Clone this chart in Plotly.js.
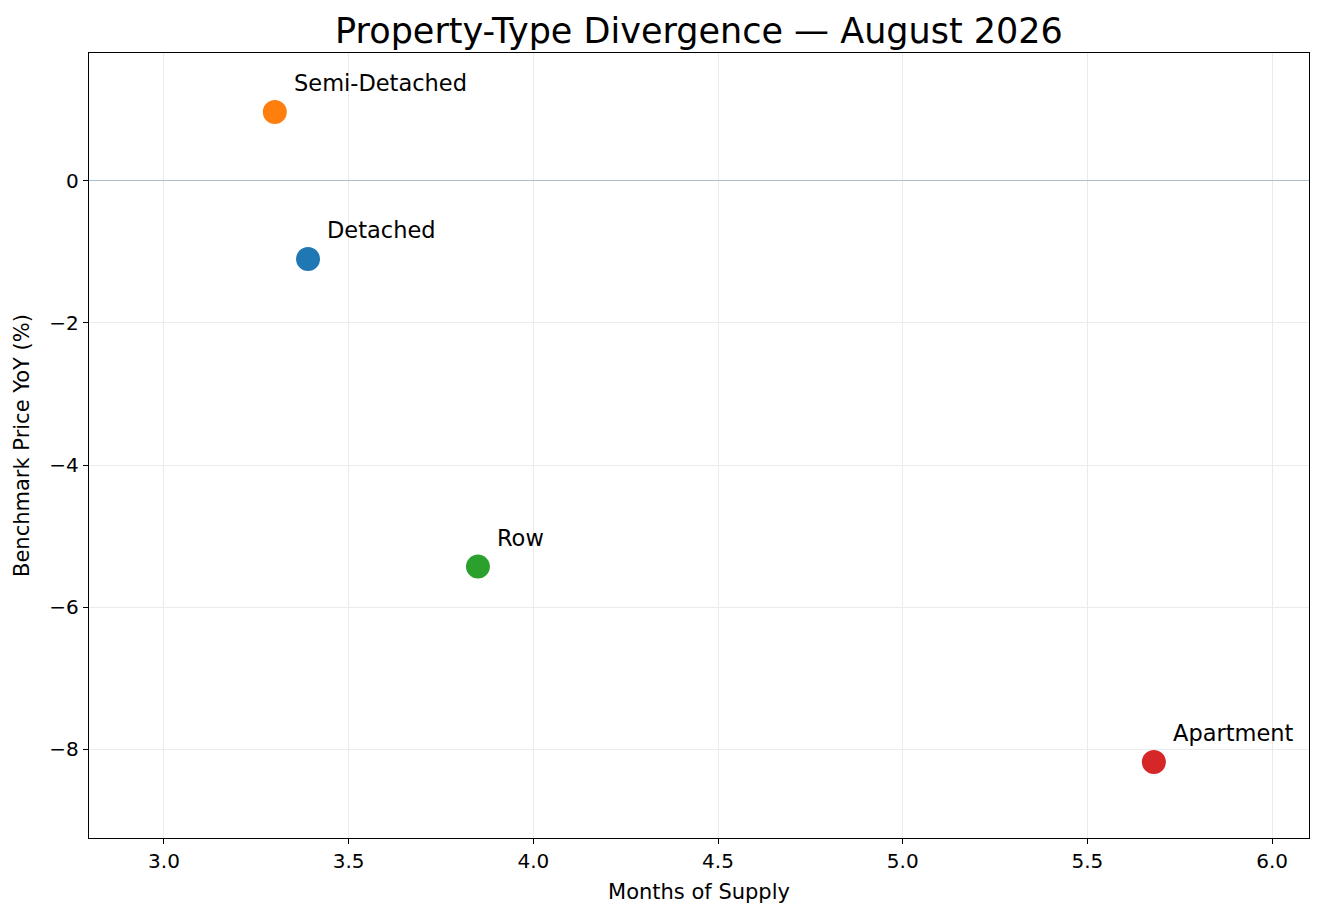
<!DOCTYPE html>
<html>
<head>
<meta charset="utf-8">
<script src="https://cdn.plot.ly/plotly-3.0.1.min.js"></script>
<style>
  body { margin: 0; background: #fff; }
  #chart { width: 1324px; height: 917px; }
</style>
</head>
<body>
<div id="chart"></div>
<script>
// property types
var types = ['Detached', 'Semi-Detached', 'Row', 'Apartment'];
var monthsSupply = [3.39, 3.30, 3.85, 5.68];
var priceYoY = [-1.1, 0.97, -5.43, -8.18];
var colors = ['#1f77b4', '#ff7f0e', '#2ca02c', '#d62728'];

var xTicks = [3.0, 3.5, 4.0, 4.5, 5.0, 5.5, 6.0];
var yTicks = [0, -2, -4, -6, -8];

var font = 'DejaVu Sans, sans-serif';

var traces = [{
	x: monthsSupply,
	y: priceYoY,
	mode: 'markers',
	type: 'scatter',
	marker: { color: colors, size: 24, line: { width: 0 } },
	hoverinfo: 'skip'
}];

var annotations = [];
for (var i = 0; i < types.length; i++) {
	annotations.push({
		x: monthsSupply[i], y: priceYoY[i],
		xref: 'x', yref: 'y',
		text: types[i],
		showarrow: false,
		xanchor: 'left', yanchor: 'middle',
		xshift: 17, yshift: 29,
		font: { family: font, size: 22.5, color: '#000' }
	});
}

var layout = {
	width: 1324, height: 917,
	margin: { l: 89, r: 15, t: 53, b: 79 },
	paper_bgcolor: '#fff',
	plot_bgcolor: '#fff',
	font: { family: font, color: '#000' },
	title: {
		text: 'Property-Type Divergence — August 2026',
		font: { family: font, size: 35, color: '#000' },
		xref: 'paper', x: 0.5, xanchor: 'center',
		y: 1 - 31 / 917, yanchor: 'middle'
	},
	xaxis: {
		title: { text: 'Months of Supply', font: { size: 21 }, standoff: 12 },
		range: [2.797, 6.1],
		tickvals: xTicks,
		ticktext: xTicks.map(function (v) { return v.toFixed(1); }),
		ticks: 'outside', ticklen: 5, tickcolor: '#000',
		tickfont: { size: 20 },
		showgrid: true, gridcolor: '#ebebeb', gridwidth: 1,
		zeroline: false,
		showline: true, linecolor: '#000', linewidth: 1.2, mirror: true
	},
	yaxis: {
		title: { text: 'Benchmark Price YoY (%)', font: { size: 21 }, standoff: 14 },
		range: [-9.25, 1.8],
		tickvals: yTicks,
		ticktext: yTicks.map(function (v) { return v < 0 ? '\u2212' + Math.abs(v) : String(v); }),
		ticks: 'outside', ticklen: 5, tickcolor: '#000',
		tickfont: { size: 20 },
		showgrid: true, gridcolor: '#ebebeb', gridwidth: 1,
		zeroline: true, zerolinecolor: '#a9c0d0', zerolinewidth: 1.2,
		showline: true, linecolor: '#000', linewidth: 1.2, mirror: true
	},
	annotations: annotations,
	showlegend: false
};

Plotly.newPlot('chart', traces, layout, { displayModeBar: false, staticPlot: true });
</script>
</body>
</html>
